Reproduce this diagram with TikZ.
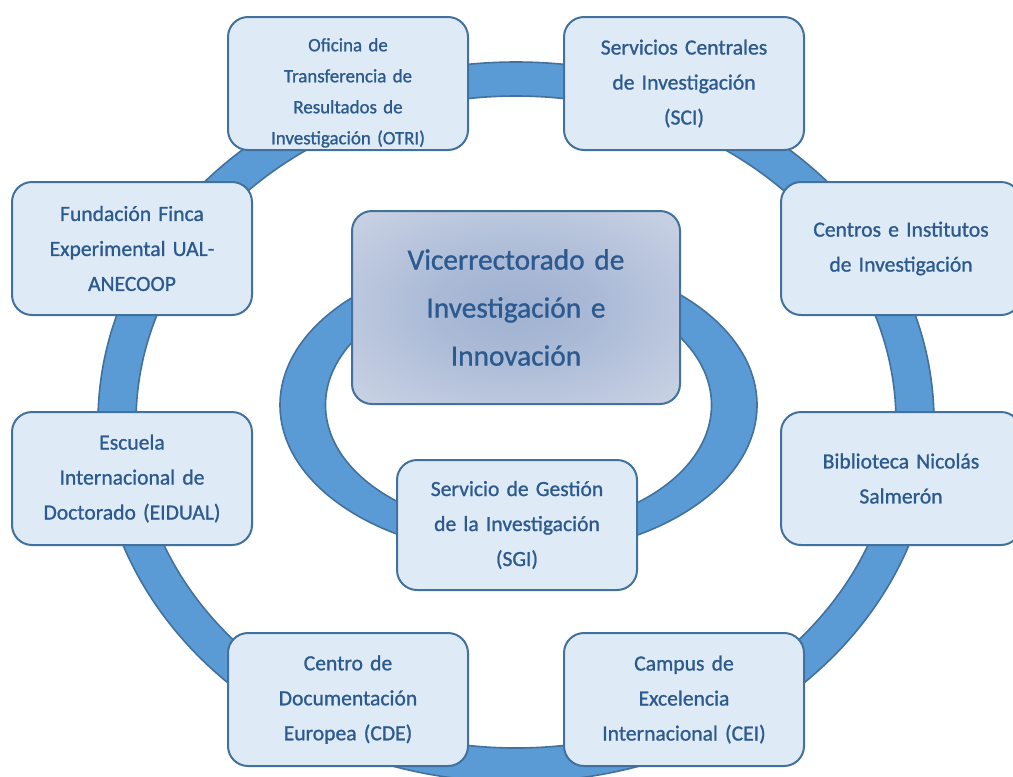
\documentclass[tikz,border=0pt]{standalone}
\usepackage{fontspec}
\setmainfont{Carlito}
\newfontface\unitface{Carlito}[FakeBold=1]
\usetikzlibrary{positioning}
\definecolor{ringblue}{HTML}{5B9BD5}
\definecolor{ringedge}{HTML}{41719C}
\definecolor{boxfill}{HTML}{DEEBF7}
\definecolor{boxedge}{HTML}{41719C}
\definecolor{textblue}{HTML}{2D5A8E}
\definecolor{hubinner}{HTML}{A0B2D2}
\definecolor{hubouter}{HTML}{DFE3ED}
\pgfdeclareradialshading{hubshade}{\pgfpoint{0bp}{0bp}}{%
  color(0bp)=(hubinner); color(12bp)=(hubinner!85!hubouter); color(50bp)=(hubouter)}
\tikzset{
  ring/.style={fill=ringblue, draw=ringedge, line width=1.2pt, even odd rule},
  unit/.style={
    draw=boxedge, fill=boxfill, line width=1.5pt, rounded corners=15pt,
    minimum width=180pt, minimum height=99.75pt, text width=172pt,
    align=center, text=textblue, font=\unitface\fontsize{16.2}{26.25}\selectfont
  },
  unittext/.style={align=center, text=textblue, text width=172pt, font=\unitface\fontsize{14.2}{23.25}\selectfont},
  hub/.style={
    unit, shading=hubshade,
    minimum width=246pt, minimum height=144.75pt, text width=236pt,
    font=\unitface\fontsize{22}{36}\selectfont
  }
}

\begin{document}
\begin{tikzpicture}[x=0.75pt, y=-0.75pt]
  \useasboundingbox (0,0) rectangle (1013,776);

  % Outer and inner rings
  \path[ring] (516,422) ellipse [x radius=418, y radius=360]
              (516,422) ellipse [x radius=380, y radius=326];
  \path[ring] (518.5,405) ellipse [x radius=238.5, y radius=150]
              (518.5,405) ellipse [x radius=193, y radius=124];

  % Units round the ring
  \node[unit] (otri) at (348,83.5) {};
  \node[unittext] (otritext) at ([yshift=-7pt]otri.center) {Oficina de\\Transferencia de\\Resultados de\\Investigación (OTRI)};
  \node[unit] (sci) at (684,83.5) {Servicios Centrales\\de Investigación\\(SCI)};
  \node[unit] (centros) at (901,248.5) {Centros e Institutos\\de Investigación};
  \node[unit] (biblio) at (901,478.5) {Biblioteca Nicolás\\Salmerón};
  \node[unit] (cei) at (684,699.5) {Campus de\\Excelencia\\Internacional (CEI)};
  \node[unit] (cde) at (348,699.5) {Centro de\\Documentación\\Europea (CDE)};
  \node[unit] (eidual) at (132,478.5) {Escuela\\Internacional de\\Doctorado (EIDUAL)};
  \node[unit] (finca) at (132,248.5) {Fundación Finca\\Experimental UAL-\\ANECOOP};

  % Vice-rectorate and its service
  \node[hub] (vice) at (516,307.5) {Vicerrectorado de\\Investigación e\\Innovación};
  \node[unit, minimum height=97.5pt] (sgi) at (517,525) {Servicio de Gestión\\de la Investigación\\(SGI)};
\end{tikzpicture}
\end{document}
